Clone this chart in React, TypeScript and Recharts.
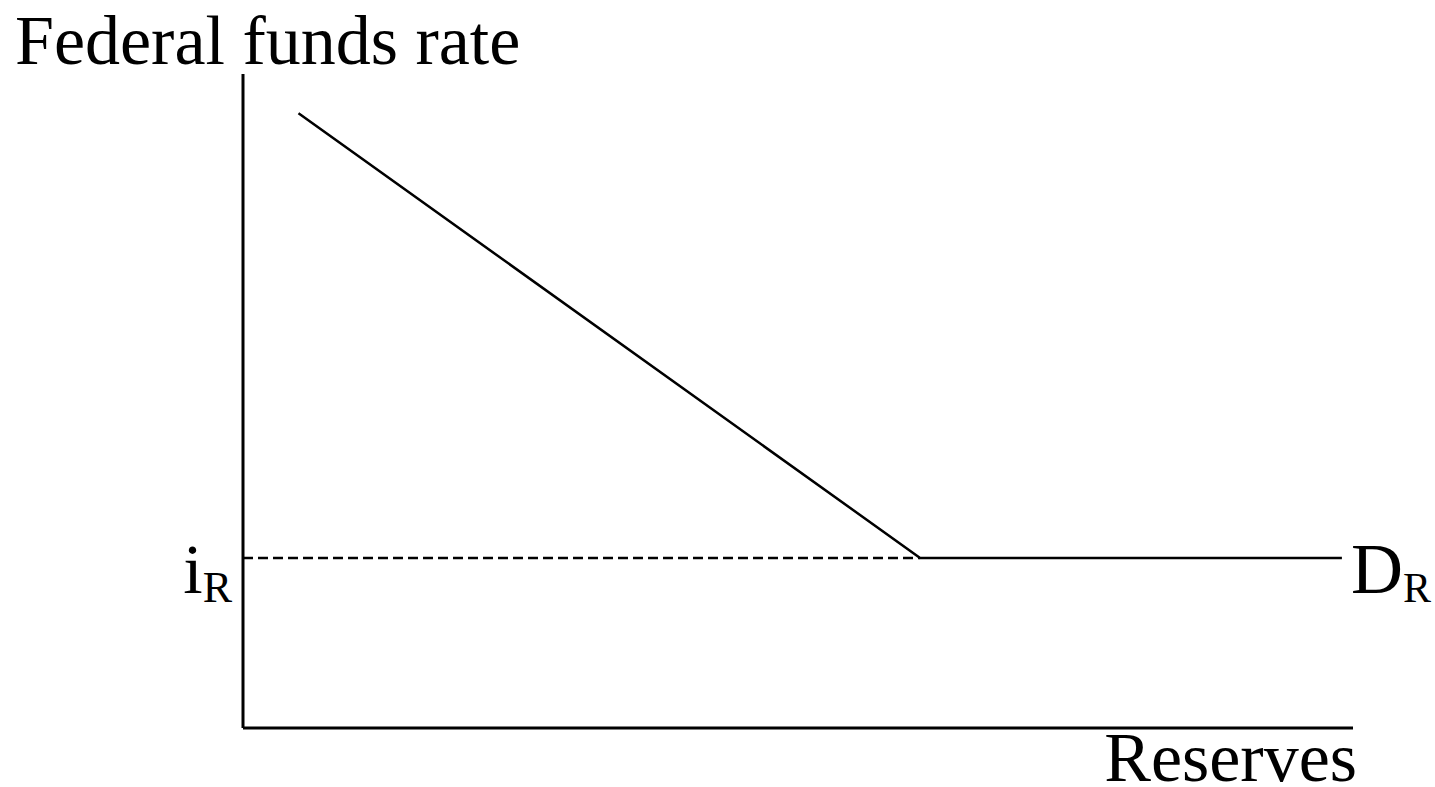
import { LineChart, Line, XAxis, YAxis, ReferenceLine, LabelList, Label } from 'recharts'

// Demand for reserves: downward slope, then flat at the interest rate on reserves
const reserves = [5, 61, 99]
const fedFundsRate = [94, 26, 26]
const interestOnReserves = 26

const data = reserves.map((r, i) => ({ reserves: r, rate: fedFundsRate[i] }))

const FONT = '"Liberation Serif", "Times New Roman", serif'

function RateTick({ y }: { x?: number; y?: number }) {
  return (
    <text x={232} y={(y ?? 0) + 35} textAnchor="end" fontFamily={FONT} fontSize={70} fill="#000">
      <tspan>i</tspan>
      <tspan fontSize={44} dy={9}>R</tspan>
    </text>
  )
}

function DemandLabel(props: any) {
  const { x, y, index } = props
  if (index !== reserves.length - 1) return null
  return (
    <text x={x + 9} y={y + 35} fontFamily={FONT} fontSize={72} fill="#000">
      <tspan>D</tspan>
      <tspan fontSize={42} dy={9}>R</tspan>
    </text>
  )
}

export default function App() {
  return (
    <div style={{ position: 'absolute', left: 0, top: 0, background: '#fff' }}>
      <LineChart width={1435} height={787} data={data} margin={{ top: 74, right: 82, bottom: 49, left: 233 }}>
        <XAxis
          dataKey="reserves"
          type="number"
          domain={[0, 100]}
          height={10}
          ticks={[]}
          tick={false}
          tickLine={false}
          axisLine={{ stroke: '#000', strokeWidth: 3 }}
        >
          <Label
            content={({ viewBox }: any) => (
              <text
                x={viewBox.x + viewBox.width + 4}
                y={viewBox.y + 53}
                textAnchor="end"
                fontFamily={FONT}
                fontSize={70}
                fill="#000"
              >
                Reserves
              </text>
            )}
          />
        </XAxis>
        <YAxis
          type="number"
          domain={[0, 100]}
          width={10}
          ticks={[interestOnReserves]}
          tick={<RateTick />}
          tickLine={false}
          axisLine={{ stroke: '#000', strokeWidth: 3 }}
        >
          <Label
            content={({ viewBox }: any) => (
              <text x={15} y={viewBox.y - 10} fontFamily={FONT} fontSize={70} fill="#000">
                Federal funds rate
              </text>
            )}
          />
        </YAxis>
        <ReferenceLine
          segment={[
            { x: 0, y: interestOnReserves },
            { x: reserves[1], y: interestOnReserves },
          ]}
          stroke="#000"
          strokeWidth={2.5}
          strokeDasharray="10 5"
        />
        <Line
          dataKey="rate"
          type="linear"
          stroke="#000"
          strokeWidth={2.5}
          dot={false}
          activeDot={false}
          isAnimationActive={false}
        >
          <LabelList dataKey="rate" content={<DemandLabel />} />
        </Line>
      </LineChart>
    </div>
  )
}
